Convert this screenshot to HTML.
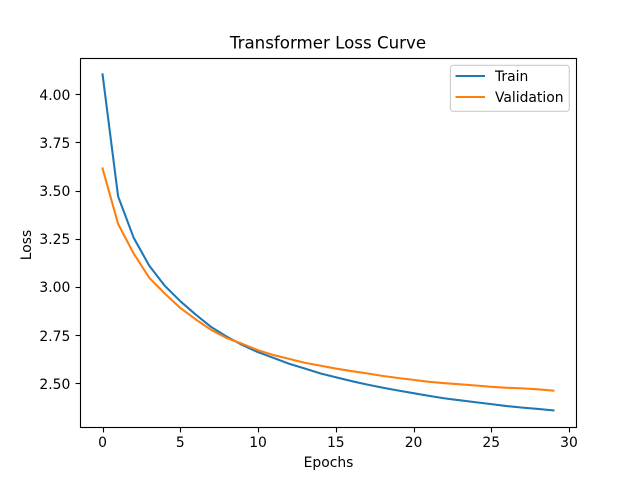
<!DOCTYPE html>
<html>
<head>
<meta charset="utf-8">
<title>Transformer Loss Curve</title>
<style>
html,body{margin:0;padding:0;background:#fff;}
svg{display:block;}
text{font-family:"DejaVu Sans",sans-serif;font-size:13.89px;fill:#000;}
</style>
</head>
<body>
<svg id="chart" width="640" height="480" viewBox="0 0 640 480" xmlns="http://www.w3.org/2000/svg">
  <rect x="0" y="0" width="640" height="480" fill="#fff"/>
  <g id="ticks"></g>
  <g id="series"></g>
  <rect x="80.5" y="58.5" width="496" height="369" fill="none" stroke="#000" stroke-width="1.11"/>
  <text x="328" y="48.6" text-anchor="middle" style="font-size:16.67px">Transformer Loss Curve</text>
  <text x="328.5" y="467" text-anchor="middle">Epochs</text>
  <text x="0" y="0" text-anchor="middle" transform="translate(31,245) rotate(-90)">Loss</text>
  <g>
    <rect x="450.4" y="65.3" width="118.9" height="46" rx="2.8" fill="#fff" fill-opacity="0.8" stroke="#ccc" stroke-width="1.11"/>
    <line x1="455.5" x2="485" y1="76" y2="76" stroke="#1f77b4" stroke-width="2.08"/>
    <text x="495" y="81">Train</text>
    <line x1="455.5" x2="485" y1="97" y2="97" stroke="#ff7f0e" stroke-width="2.08"/>
    <text x="495" y="102">Validation</text>
  </g>
</svg>
<script>
const epochs = [0,1,2,3,4,5,6,7,8,9,10,11,12,13,14,15,16,17,18,19,20,21,22,23,24,25,26,27,28,29];
const trainLoss = [4.1035,3.47,3.255,3.11,3.005,2.925,2.855,2.79,2.74,2.697,2.66,2.63,2.60,2.575,2.55,2.53,2.51,2.492,2.476,2.461,2.447,2.433,2.42,2.41,2.40,2.39,2.38,2.372,2.365,2.3575];
const validationLoss = [3.615,3.327,3.173,3.047,2.965,2.89,2.83,2.775,2.733,2.703,2.67,2.645,2.625,2.605,2.59,2.575,2.562,2.55,2.537,2.526,2.516,2.506,2.499,2.493,2.487,2.48,2.475,2.472,2.467,2.46];
const xTickValues = [0,5,10,15,20,25,30];
const xTickLabels = ["0","5","10","15","20","25","30"];
const yTickValues = [2.5,2.75,3,3.25,3.5,3.75,4];
const yTickLabels = ["2.50","2.75","3.00","3.25","3.50","3.75","4.00"];

const NS = "http://www.w3.org/2000/svg";
const plot = {left:80, right:576, top:57.6, bottom:427.2};

function extent(list){ return [Math.min.apply(null,list), Math.max.apply(null,list)]; }
const xExt = extent(epochs);
const yExt = extent(trainLoss.concat(validationLoss));
const xPad = (xExt[1]-xExt[0])*0.05;
const yPad = (yExt[1]-yExt[0])*0.05;
const xDomain = [xExt[0]-xPad, xExt[1]+xPad];
const yDomain = [yExt[0]-yPad, yExt[1]+yPad];

function xScale(v){ return plot.left + (v-xDomain[0])/(xDomain[1]-xDomain[0])*(plot.right-plot.left); }
function yScale(v){ return plot.bottom - (v-yDomain[0])/(yDomain[1]-yDomain[0])*(plot.bottom-plot.top); }
function snap(p){ return Math.floor(p+0.5)+0.5; }

const tickGroup = document.getElementById("ticks");
const seriesGroup = document.getElementById("series");

xTickValues.forEach(function(v,i){
  const x = snap(xScale(v));
  const tick = document.createElementNS(NS,"line");
  
  
  tick.setAttribute("x1",x); tick.setAttribute("x2",x);
  tick.setAttribute("y1",427.5); tick.setAttribute("y2",432.4);
  tick.setAttribute("stroke","#000"); tick.setAttribute("stroke-width","1.11");
  tickGroup.appendChild(tick);
  const label = document.createElementNS(NS,"text");
  
  
  label.setAttribute("x",xScale(v)); label.setAttribute("y",plot.bottom+20);
  label.setAttribute("text-anchor","middle");
  label.textContent = xTickLabels[i];
  tickGroup.appendChild(label);
});

yTickValues.forEach(function(v,i){
  const y = snap(yScale(v));
  const tick = document.createElementNS(NS,"line");
  
  
  tick.setAttribute("x1",plot.left-4.4); tick.setAttribute("x2",plot.left+0.5);
  tick.setAttribute("y1",y); tick.setAttribute("y2",y);
  tick.setAttribute("stroke","#000"); tick.setAttribute("stroke-width","1.11");
  tickGroup.appendChild(tick);
  const label = document.createElementNS(NS,"text");
  
  
  label.setAttribute("x",plot.left-9.7); label.setAttribute("y",Math.round(yScale(v)+5.7));
  label.setAttribute("text-anchor","end");
  label.textContent = yTickLabels[i];
  tickGroup.appendChild(label);
});

function pointsFor(values){
  return values.map(function(v,i){ return xScale(epochs[i]).toFixed(2)+","+yScale(v).toFixed(2); }).join(" ");
}

const trainLine = document.createElementNS(NS,"polyline");


trainLine.setAttribute("points",pointsFor(trainLoss));
trainLine.setAttribute("fill","none");
trainLine.setAttribute("stroke","#1f77b4");
trainLine.setAttribute("stroke-width","2.08");
trainLine.setAttribute("stroke-linecap","square");
trainLine.setAttribute("stroke-linejoin","round");
seriesGroup.appendChild(trainLine);

const validationLine = document.createElementNS(NS,"polyline");


validationLine.setAttribute("points",pointsFor(validationLoss));
validationLine.setAttribute("fill","none");
validationLine.setAttribute("stroke","#ff7f0e");
validationLine.setAttribute("stroke-width","2.08");
validationLine.setAttribute("stroke-linecap","square");
validationLine.setAttribute("stroke-linejoin","round");
seriesGroup.appendChild(validationLine);
</script>
</body>
</html>
